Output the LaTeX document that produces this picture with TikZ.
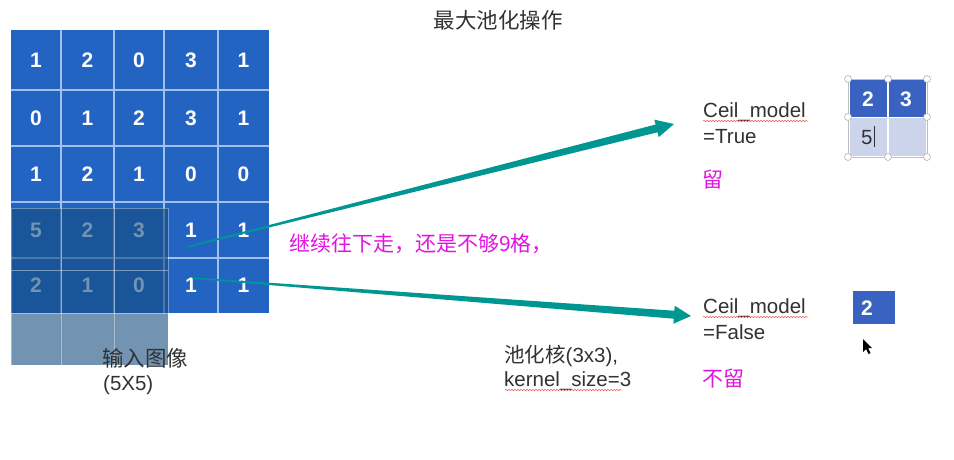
\documentclass[tikz,border=0pt]{standalone}
\usepackage{fontspec}
\setmainfont{Liberation Sans}
\newfontfamily\cjk{Noto Sans CJK SC}
\usetikzlibrary{calc,decorations.pathmorphing}
\definecolor{cellblue}{RGB}{35,100,195}
\definecolor{tblblue}{RGB}{58,98,192}
\definecolor{tbllight}{RGB}{203,212,234}
\definecolor{gridline}{RGB}{160,192,238}
\definecolor{ovlcol}{RGB}{20,75,125}
\definecolor{arrowteal}{RGB}{0,150,145}
\definecolor{mag}{RGB}{225,20,225}
\definecolor{txt}{RGB}{50,50,50}
\definecolor{squig}{RGB}{235,90,90}
\tikzset{
  num/.style={text=white, font=\fontsize{21}{24}\selectfont\bfseries, inner sep=0pt},
  lbl/.style={text=txt, font=\fontsize{20.5}{24}\selectfont, inner sep=0pt, anchor=base west},
  cjklbl/.style={text=txt, font=\fontsize{21.5}{24}\selectfont\cjk, inner sep=0pt},
  magtxt/.style={text=mag, font=\fontsize{21}{24}\selectfont\cjk, inner sep=0pt},
  wavy/.style={squig, line width=0.5pt, decorate, decoration={snake, amplitude=0.7pt, segment length=3pt}},
  handle/.style={circle, draw=gray!60, fill=white, line width=0.6pt, minimum size=7pt, inner sep=0pt},
}
\begin{document}
\begin{tikzpicture}[x=1pt,y=-1pt]
\useasboundingbox[fill=white] (0,0) rectangle (954,459);

% title
\node[cjklbl] (title) at (498,20) {最大池化操作};

% input grid
\fill[cellblue] (11,30) rectangle (269,313);
\foreach \gx in {61,114,164,218}
  \draw[gridline, line width=1.2pt] (\gx,30) -- (\gx,313);
\foreach \gy in {90,146,202,258}
  \draw[gridline, line width=1.2pt] (11,\gy) -- (269,\gy);
\foreach \row [count=\r] in {{1,2,0,3,1},{0,1,2,3,1},{1,2,1,0,0},{5,2,3,1,1},{2,1,0,1,1}}
  \foreach \v [count=\c] in \row {
    \pgfmathsetmacro\xx{{36,87.5,139,191,243.5}[\c-1]}
    \pgfmathsetmacro\yy{{60,118,174,230,285.5}[\r-1]}
    \node[num] (c\r\c) at (\xx,\yy) {\v};
  }

% pooling kernel overlay
\fill[ovlcol, opacity=0.6] (11,208) rectangle (168,365);
\draw[white, opacity=0.35, line width=0.8pt] (11,208) rectangle (168,365);
\foreach \gx in {61,114}
  \draw[white, opacity=0.4, line width=0.8pt] (\gx,208) -- (\gx,365);
\foreach \gy in {270,313}
  \draw[white, opacity=0.4, line width=0.8pt] (11,\gy) -- (168,\gy);

% input labels
\node[cjklbl, anchor=west] (inlbl) at (102,358) {输入图像};
\node[lbl] (insize) at (103,390) {(5X5)};

% kernel labels
\node[lbl] (kern1) at (504,362) {{\cjk 池化核}(3x3),};
\node[lbl] (kern2) at (504,386) {kernel\_size=3};
\draw[wavy] (505,390) -- (622,390);

% middle magenta text
\node[magtxt, anchor=west] (cont) at (289,244) {继续往下走，还是不够9格，};

% arrows (tapered)
\coordinate (s1) at (187,247);
\coordinate (t1) at (674,124);
\coordinate (b1) at ($(t1)!18pt!(s1)$);
\fill[arrowteal] ($(s1)!0.6pt!90:(b1)$) -- ($(b1)!4pt!-90:(s1)$) -- ($(b1)!9pt!-90:(s1)$) -- (t1)
  -- ($(b1)!9pt!90:(s1)$) -- ($(b1)!4pt!90:(s1)$) -- ($(s1)!0.6pt!-90:(b1)$) -- cycle;
\coordinate (s2) at (192,278);
\coordinate (t2) at (691,316);
\coordinate (b2) at ($(t2)!17pt!(s2)$);
\fill[arrowteal] ($(s2)!0.6pt!90:(b2)$) -- ($(b2)!4pt!-90:(s2)$) -- ($(b2)!9pt!-90:(s2)$) -- (t2)
  -- ($(b2)!9pt!90:(s2)$) -- ($(b2)!4pt!90:(s2)$) -- ($(s2)!0.6pt!-90:(b2)$) -- cycle;

% Ceil_model True
\node[lbl] (ceilT) at (703,117) {Ceil\_model};
\draw[wavy] (703,121) -- (808,121);
\node[lbl] (eqT) at (703,143) {=True};
\node[magtxt, anchor=west] (liu) at (702,180) {留};

% Ceil_model False
\node[lbl] (ceilF) at (703,313) {Ceil\_model};
\draw[wavy] (703,317) -- (808,317);
\node[lbl] (eqF) at (703,339) {=False};
\node[magtxt, anchor=west] (buliu) at (702,379) {不留};

% result table (True)
\fill[tblblue] (850,80) rectangle (926,117);
\fill[tbllight] (850,118) rectangle (926,156);
\draw[white, line width=1.2pt] (888,80) -- (888,156);
\draw[white, line width=1.2pt] (850,117.5) -- (926,117.5);
\draw[gray!50, line width=0.5pt] (848,79) rectangle (927,157);
\node[num] (r11) at (868,99) {2};
\node[num] (r12) at (906,99) {3};
\node[lbl] (r21) at (861,144) {5};
\draw[txt, line width=0.7pt] (874,126) -- (874,147);
\foreach \hx/\hy [count=\k] in {848/79,888/79,927/79,848/117,927/117,848/157,888/157,927/157}
  \node[handle] (h\k) at (\hx,\hy) {};

% result (False)
\fill[tblblue] (853,291) rectangle (895,324);
\node[num] (rf) at (867,308) {2};

% mouse cursor
\fill[black] (863,339) -- (863,352) -- (866,349) -- (868.5,354) -- (870.5,353) -- (868,348) -- (872,348) -- cycle;
\end{tikzpicture}
\end{document}
